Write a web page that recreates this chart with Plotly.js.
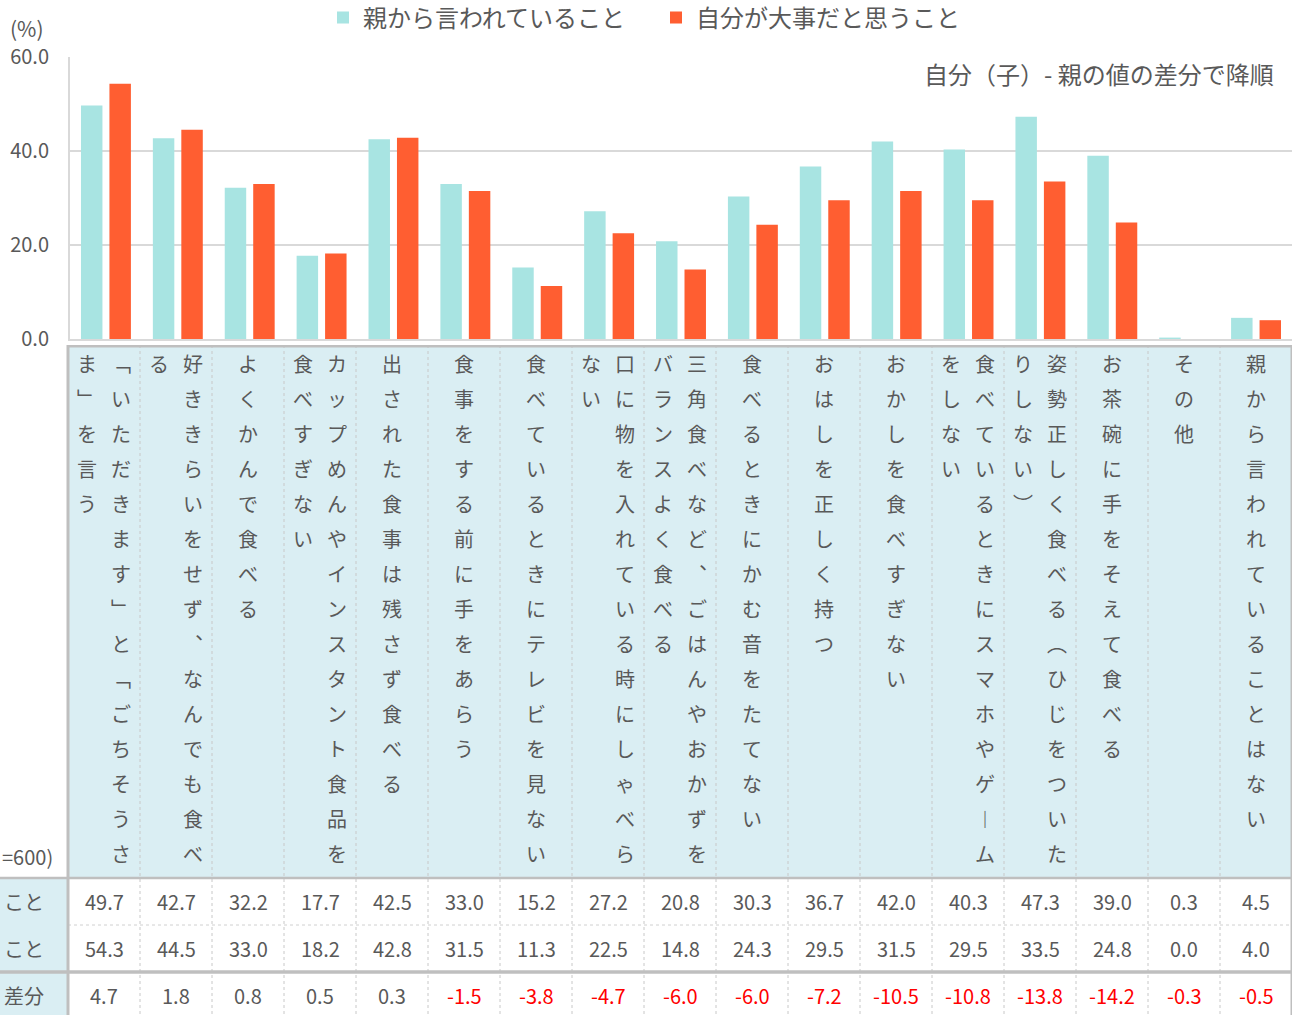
<!DOCTYPE html>
<html>
<head>
<meta charset="utf-8">
<script src="https://cdn.plot.ly/plotly-3.0.1.min.js"></script>
<style>html,body{margin:0;padding:0;background:#fff;}</style>
</head>
<body>
<div id="chart" style="width:1297px;height:1015px;"></div>
<script>
// ---- data ----
const categories = [
  '「いただきます」と「ごちそうさま」を言う',
  '好ききらいをせず、なんでも食べる',
  'よくかんで食べる',
  'カップめんやインスタント食品を食べすぎない',
  '出された食事は残さず食べる',
  '食事をする前に手をあらう',
  '食べているときにテレビを見ない',
  '口に物を入れている時にしゃべらない',
  '三角食べなど、ごはんやおかずをバランスよく食べる',
  '食べるときにかむ音をたてない',
  'おはしを正しく持つ',
  'おかしを食べすぎない',
  '食べているときにスマホやゲームをしない',
  '姿勢正しく食べる（ひじをついたりしない）',
  'お茶碗に手をそえて食べる',
  'その他',
  '親から言われていることはない'
];
const seriesNames = ['親から言われていること', '自分が大事だと思うこと'];
const parentVals = [49.7, 42.7, 32.2, 17.7, 42.5, 33.0, 15.2, 27.2, 20.8, 30.3, 36.7, 42.0, 40.3, 47.3, 39.0, 0.3, 4.5];
const selfVals   = [54.3, 44.5, 33.0, 18.2, 42.8, 31.5, 11.3, 22.5, 14.8, 24.3, 29.5, 31.5, 29.5, 33.5, 24.8, 0.0, 4.0];
const diffVals   = [4.7, 1.8, 0.8, 0.5, 0.3, -1.5, -3.8, -4.7, -6.0, -6.0, -7.2, -10.5, -10.8, -13.8, -14.2, -0.3, -0.5];
const rowLabels = ['こと', 'こと', '差分'];   // visible part of the row-label column
const nLabel = '=600)';                        // visible part of "(n=600)"
const yTickVals = [0, 20, 40, 60];
const unitLabel = '(%)';
const noteText = '自分（子）- 親の値の差分で降順';

// ---- style ----
const FONT = '"Noto Sans CJK JP", "Noto Sans", sans-serif';
const TXT = '#595959';
const TEAL = '#A8E4E2';
const ORANGE = '#FF5E31';
const HEAD_BG = '#DAEEF3';
const W = 1297, H = 1015, MR = 5;
const PW = W - MR;              // plot width in px
const TABLE_TOP = 345;          // px from top
const TABLE_H = H - TABLE_TOP;  // 670
const LEFT_COL = 68;            // label column width px
const CAT_W = (PW - LEFT_COL) / categories.length; // 72
const x2min = -0.5 - LEFT_COL / CAT_W;

const vmap = {'「':'﹁','」':'﹂','（':'︵','）':'︶','ー':'︱','、':'︑'};

const traces = [
  {type:'bar', name:seriesNames[0], x:categories, y:parentVals, marker:{color:TEAL}, xaxis:'x', yaxis:'y', hoverinfo:'skip'},
  {type:'bar', name:seriesNames[1], x:categories, y:selfVals, marker:{color:ORANGE}, xaxis:'x', yaxis:'y', hoverinfo:'skip'},
  {type:'scatter', x:[], y:[], xaxis:'x2', yaxis:'y2', showlegend:false, hoverinfo:'skip'}
];

const shapes = [];
const annotations = [];
// table rows (y2 units = px from table top)
const HEAD_END = 533, R1_END = 580, R2_END = 627, R3_END = TABLE_H;
const rowCenters = [556.5, 603.5, 650];

// backgrounds
shapes.push({type:'rect', xref:'x2', yref:'y2', x0:-0.5, x1:categories.length-0.5, y0:0, y1:HEAD_END, fillcolor:HEAD_BG, line:{width:0}, layer:'below'});
shapes.push({type:'rect', xref:'x2', yref:'y2', x0:x2min, x1:-0.5, y0:HEAD_END, y1:R3_END, fillcolor:HEAD_BG, line:{width:0}, layer:'below'});

// dotted vertical separators
for (let k = 1; k < categories.length; k++) {
  shapes.push({type:'line', xref:'x2', yref:'y2', x0:k-0.5, x1:k-0.5, y0:0, y1:R3_END, line:{color:'#C8C8C8', width:1, dash:'dot'}});
}
// dotted row line between row1 and row2
shapes.push({type:'line', xref:'x2', yref:'y2', x0:-0.5, x1:categories.length-0.5, y0:R1_END, y1:R1_END, line:{color:'#D0D0D0', width:1, dash:'dot'}});
// thick borders
const BORDER = '#BFBFBF';
shapes.push({type:'line', xref:'x2', yref:'y2', x0:-0.5, x1:categories.length-0.5, y0:1, y1:1, line:{color:BORDER, width:3}});
shapes.push({type:'line', xref:'x2', yref:'y2', x0:x2min, x1:categories.length-0.5, y0:HEAD_END, y1:HEAD_END, line:{color:BORDER, width:2.5}});
shapes.push({type:'line', xref:'x2', yref:'y2', x0:x2min, x1:categories.length-0.5, y0:R2_END, y1:R2_END, line:{color:BORDER, width:3.5}});
shapes.push({type:'line', xref:'x2', yref:'y2', x0:-0.5, x1:-0.5, y0:0, y1:R3_END, line:{color:BORDER, width:3}});
shapes.push({type:'line', xref:'x2', yref:'y2', x0:categories.length-0.5, x1:categories.length-0.5, y0:0, y1:R3_END, line:{color:BORDER, width:3}});

// vertical header text
const PER_COL = 15, CH_STEP = 35, CH_TOP = 18, SUB_OFF = 17;
categories.forEach((label, i) => {
  const chars = Array.from(label).map(c => vmap[c] || c);
  const cols = [];
  for (let s = 0; s < chars.length; s += PER_COL) cols.push(chars.slice(s, s + PER_COL));
  cols.forEach((col, ci) => {
    let shift = 0;
    if (cols.length === 2) shift = ci === 0 ? SUB_OFF : -SUB_OFF;
    col.forEach((ch, j) => {
      annotations.push({xref:'x2', yref:'y2', x:i, y:CH_TOP + CH_STEP*j, xshift:shift, text:ch, showarrow:false,
        font:{family:FONT, size:20, color:TXT}, xanchor:'center', yanchor:'middle'});
    });
  });
});

// values rows
const fmt = v => v.toFixed(1);
[parentVals, selfVals, diffVals].forEach((arr, r) => {
  arr.forEach((v, i) => {
    annotations.push({xref:'x2', yref:'y2', x:i, y:rowCenters[r], text:fmt(v), showarrow:false,
      font:{family:FONT, size:20, color:(r === 2 && v < 0) ? '#FF0000' : TXT}, xanchor:'center', yanchor:'middle'});
  });
});
// row labels
const labelRight = [-0.5 - 22/CAT_W, -0.5 - 22/CAT_W, -0.5 - 22/CAT_W];
rowLabels.forEach((t, r) => {
  annotations.push({xref:'x2', yref:'y2', x:labelRight[r], y:rowCenters[r], text:t, showarrow:false,
    font:{family:FONT, size:20, color:TXT}, xanchor:'right', yanchor:'middle'});
});
annotations.push({xref:'x2', yref:'y2', x:-0.5 - 13/CAT_W, y:511, text:nLabel, showarrow:false,
  font:{family:FONT, size:20, color:TXT}, xanchor:'right', yanchor:'middle'});

// unit + note
annotations.push({xref:'paper', yref:'paper', x:8/PW, y:(H-28)/H, text:unitLabel, showarrow:false,
  font:{family:FONT, size:21, color:TXT}, xanchor:'left', yanchor:'middle'});
annotations.push({xref:'paper', yref:'paper', x:1276/PW, y:(H-73)/H, text:noteText, showarrow:false,
  font:{family:FONT, size:24, color:TXT}, xanchor:'right', yanchor:'middle'});

const layout = {
  width: W, height: H,
  margin: {l:0, r:MR, t:0, b:0, autoexpand:false},
  paper_bgcolor: '#fff', plot_bgcolor: '#fff',
  font: {family: FONT, color: TXT},
  barmode: 'group', bargap: 0.208, bargroupgap: 0.246,
  showlegend: true,
  legend: {orientation:'h', x:323/PW, xanchor:'left', y:(H-18)/H, yanchor:'middle', entrywidth:288, entrywidthmode:'pixels',
    font:{family:FONT, size:24, color:TXT}, bgcolor:'rgba(0,0,0,0)', traceorder:'normal'},
  xaxis: {domain:[70/PW, 1], range:[-0.5, categories.length-0.5], showticklabels:false, ticks:'',
    showline:true, linecolor:'#D9D9D9', linewidth:2, showgrid:false, zeroline:false, anchor:'y', fixedrange:true},
  yaxis: {domain:[(H-339)/H, (H-57)/H], range:[0, 60], tickvals:yTickVals, tickformat:'.1f', ticks:'',
    showline:true, linecolor:'#D9D9D9', linewidth:2, gridcolor:'#D9D9D9', gridwidth:1.5, zeroline:false,
    tickfont:{family:FONT, size:20, color:TXT}, ticklabelstandoff:15, anchor:'x', automargin:false, fixedrange:true},
  xaxis2: {domain:[0, 1], range:[x2min, categories.length-0.5], visible:false, anchor:'y2', fixedrange:true},
  yaxis2: {domain:[0, TABLE_H/H], range:[TABLE_H, 0], visible:false, anchor:'x2', fixedrange:true},
  shapes: shapes,
  annotations: annotations
};

Plotly.newPlot('chart', traces, layout, {staticPlot:true, displayModeBar:false});
</script>
</body>
</html>
